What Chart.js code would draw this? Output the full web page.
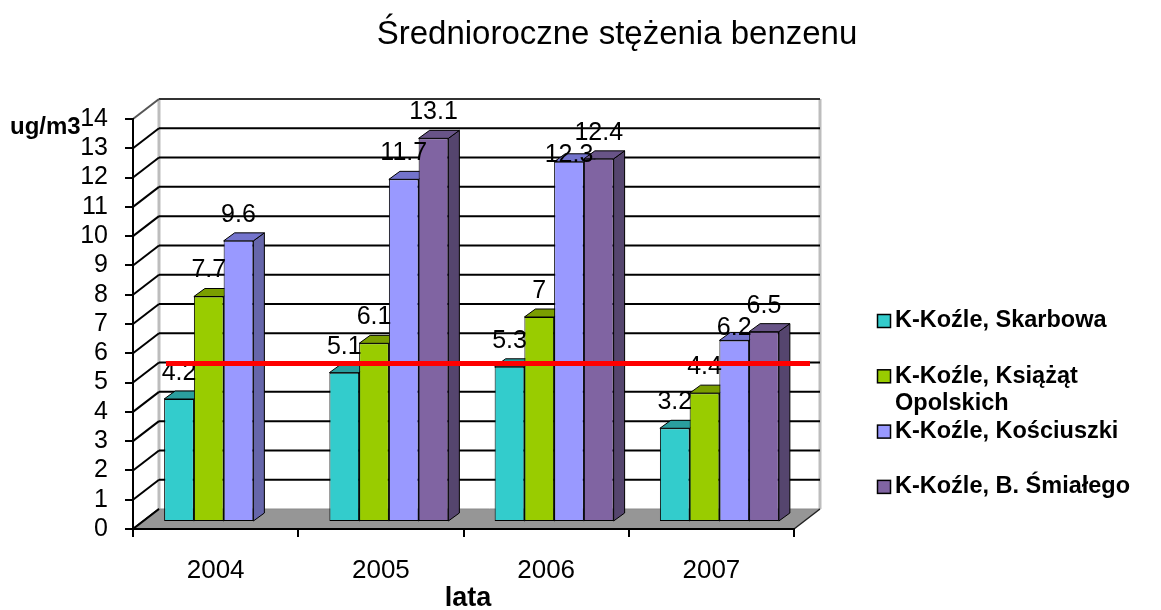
<!DOCTYPE html>
<html>
<head>
<meta charset="utf-8">
<script src="https://cdn.jsdelivr.net/npm/chart.js@4.4.1/dist/chart.umd.min.js"></script>
<style>
  html, body { margin: 0; padding: 0; background: #ffffff; }
  #wrap { width: 1161px; height: 610px; position: relative; }
</style>
</head>
<body>
<div id="wrap"><canvas id="chart" width="1161" height="610"></canvas></div>
<script>
// Średnioroczne stężenia benzenu – Kędzierzyn-Koźle, 2004–2007 [ug/m3]
const years = ['2004', '2005', '2006', '2007'];
const skarbowa   = [4.2, 5.1, 5.3, 3.2];
const ksiazat    = [7.7, 6.1, 7, 4.4];
const kosciuszki = [9.6, 11.7, 12.3, 6.2];
const smialego   = [null, 13.1, 12.4, 6.5];
const stationNames = [
  'K-Koźle, Skarbowa',
  'K-Koźle, Książąt Opolskich',
  'K-Koźle, Kościuszki',
  'K-Koźle, B. Śmiałego'
];
const yAxisMax = 14;
const limitValue = 5; // poziom dopuszczalny

const FONT = "'Liberation Sans', Arial, sans-serif";

// front, top and side face colours of each series
const faceColors = [
  { front: '#33CCCC', top: '#2A9E9E', side: '#1F7777' },
  { front: '#99CC00', top: '#7A9E00', side: '#5A7700' },
  { front: '#9999FF', top: '#7373CC', side: '#6666AA' },
  { front: '#8064A2', top: '#685487', side: '#55456E' }
];

const WALL = { x: 26, y: -20 };   // offset of the back wall
const SHIFT = { x: 8, y: -7 };    // bars stand in the middle of the floor
const BAR3D = { x: 11, y: -8 };   // bar depth

function poly(ctx, pts, fill, stroke, lw) {
  ctx.beginPath();
  ctx.moveTo(pts[0][0], pts[0][1]);
  for (let i = 1; i < pts.length; i++) ctx.lineTo(pts[i][0], pts[i][1]);
  ctx.closePath();
  if (fill) { ctx.fillStyle = fill; ctx.fill(); }
  if (stroke) { ctx.strokeStyle = stroke; ctx.lineWidth = lw || 1; ctx.stroke(); }
}

function line(ctx, x0, y0, x1, y1, color, lw) {
  ctx.beginPath();
  ctx.moveTo(x0, y0);
  ctx.lineTo(x1, y1);
  ctx.strokeStyle = color;
  ctx.lineWidth = lw;
  ctx.stroke();
}

const frame3d = {
  id: 'frame3d',
  beforeDraw(chart) {
    const ctx = chart.ctx;
    const { left, right, top, bottom } = chart.chartArea;
    const ys = chart.scales.y;
    ctx.save();
    ctx.fillStyle = '#ffffff';
    ctx.fillRect(0, 0, chart.width, chart.height);

    // back wall
    ctx.fillStyle = '#ffffff';
    ctx.fillRect(left + WALL.x, top + WALL.y, right - left, bottom - top);
    line(ctx, left + WALL.x, top + WALL.y, left + WALL.x, bottom + WALL.y, '#BDBDBD', 3);
    line(ctx, right + WALL.x, top + WALL.y, right + WALL.x, bottom + WALL.y, '#BDBDBD', 3);

    // gridlines on the back wall and on the side wall
    ys.ticks.forEach(t => {
      const yp = ys.getPixelForValue(t.value);
      if (t.value > 0) {
        line(ctx, left + WALL.x, yp + WALL.y, right + WALL.x, yp + WALL.y, t.value === yAxisMax ? '#333' : '#000', 2);
      }
      line(ctx, left, yp, left + WALL.x, yp + WALL.y, t.value === yAxisMax ? '#555' : '#000', 2);
    });

    // floor
    poly(ctx, [
      [left, bottom], [left + WALL.x, bottom + WALL.y],
      [right + WALL.x, bottom + WALL.y], [right, bottom]
    ], '#969696', null);
    line(ctx, left + WALL.x, bottom + WALL.y, right + WALL.x, bottom + WALL.y, '#8A8A8A', 1);
    line(ctx, right, bottom, right + WALL.x, bottom + WALL.y, '#222', 1.5);
    line(ctx, left, bottom, left + WALL.x, bottom + WALL.y, '#000', 2);
    ctx.restore();
  },
  beforeDatasetsDraw(chart) {
    const ctx = chart.ctx;
    ctx.save();
    ctx.translate(SHIFT.x, SHIFT.y);
    chart.data.datasets.forEach((ds, di) => {
      const meta = chart.getDatasetMeta(di);
      const col = faceColors[di];
      meta.data.forEach((bar, i) => {
        if (ds.data[i] === null || ds.data[i] === undefined) return;
        const p = bar.getProps(['x', 'y', 'width', 'base'], true);
        const x0 = p.x - p.width / 2, x1 = p.x + p.width / 2;
        const yt = Math.min(p.y, p.base), yb = Math.max(p.y, p.base);
        poly(ctx, [[x1, yt], [x1 + BAR3D.x, yt + BAR3D.y], [x1 + BAR3D.x, yb + BAR3D.y], [x1, yb]], col.side, '#000', 1);
        poly(ctx, [[x0, yt], [x1, yt], [x1 + BAR3D.x, yt + BAR3D.y], [x0 + BAR3D.x, yt + BAR3D.y]], col.top, '#000', 1);
      });
    });
    // the bar fronts are drawn by Chart.js inside this translation
  },
  afterDatasetsDraw(chart) {
    const ctx = chart.ctx;
    ctx.restore();

    // value labels above the bars
    ctx.save();
    ctx.font = '25px ' + FONT;
    ctx.fillStyle = '#000';
    ctx.textAlign = 'center';
    ctx.textBaseline = 'middle';
    const boxH = 22;
    years.forEach((yr, i) => {
      let next = null;
      for (let di = chart.data.datasets.length - 1; di >= 0; di--) {
        const v = chart.data.datasets[di].data[i];
        if (v === null || v === undefined) continue;
        const p = chart.getDatasetMeta(di).data[i].getProps(['x', 'y'], true);
        const txt = String(v);
        const w = ctx.measureText(txt).width;
        const cx = p.x + SHIFT.x;
        let cy = p.y + SHIFT.y - 26;
        if (next && Math.abs(cx - next.cx) < (w + next.w) / 2 &&
            Math.abs(cy - next.cy) < boxH) {
          cy = next.cy + boxH;
        }
        ctx.fillText(txt, cx, cy);
        next = { cx, cy, w };
      }
    });
    ctx.restore();
  },
  afterDraw(chart) {
    const ctx = chart.ctx;
    const { left, right } = chart.chartArea;
    const ys = chart.scales.y;
    ctx.save();

    // limit line on the back wall
    const yl = ys.getPixelForValue(limitValue) + WALL.y + 1;
    line(ctx, left + WALL.x + 7, yl, right + WALL.x - 10, yl, '#FF0000', 5);

    // title
    ctx.fillStyle = '#000';
    ctx.textAlign = 'center';
    ctx.textBaseline = 'alphabetic';
    ctx.font = '33px ' + FONT;
    ctx.fillText('Średnioroczne stężenia benzenu', 617, 44);

    // axis titles
    ctx.font = 'bold 24px ' + FONT;
    ctx.textAlign = 'left';
    ctx.fillText('ug/m3', 10, 134);
    ctx.font = 'bold 27px ' + FONT;
    ctx.textAlign = 'center';
    ctx.fillText('lata', 468, 606);

    // legend
    ctx.font = 'bold 23.5px ' + FONT;
    ctx.textAlign = 'left';
    ctx.textBaseline = 'middle';
    const legX = 877, textX = 895, maxW = 1161 - textX - 2;
    chart.data.datasets.forEach((ds, di) => {
      const cy = 321 + di * 55.3;
      ctx.fillStyle = faceColors[di].front;
      ctx.fillRect(legX + 0.5, cy - 6.5, 13, 13);
      ctx.strokeStyle = '#000';
      ctx.lineWidth = 1.5;
      ctx.strokeRect(legX + 0.5, cy - 6.5, 13, 13);
      // wrap the label into lines
      const words = ds.label.split(' ');
      const lines = [];
      let cur = '';
      words.forEach(w => {
        const test = cur ? cur + ' ' + w : w;
        if (ctx.measureText(test).width > maxW && cur) { lines.push(cur); cur = w; }
        else cur = test;
      });
      lines.push(cur);
      ctx.fillStyle = '#000';
      lines.forEach((ln, li) => ctx.fillText(ln, textX, cy + li * 27));
    });
    ctx.restore();
  }
};

const seriesValues = [skarbowa, ksiazat, kosciuszki, smialego];

new Chart(document.getElementById('chart'), {
  type: 'bar',
  data: {
    labels: years,
    datasets: seriesValues.map((vals, i) => ({
      label: stationNames[i],
      data: vals,
      backgroundColor: faceColors[i].front,
      borderColor: '#000000',
      borderWidth: 1,
      borderSkipped: false,
      categoryPercentage: 0.72,
      barPercentage: 1.0,
      clip: false
    }))
  },
  options: {
    responsive: false,
    animation: false,
    devicePixelRatio: 1,
    layout: { padding: { top: 119, right: 367, bottom: 0, left: 0 } },
    plugins: {
      legend: { display: false },
      title: { display: false },
      tooltip: { enabled: false }
    },
    scales: {
      x: {
        type: 'category',
        grid: { display: true, drawOnChartArea: false, drawTicks: true, tickLength: 8, color: '#000', lineWidth: 2, offset: true },
        border: { display: true, color: '#000', width: 2 },
        ticks: { font: { family: FONT, size: 26 }, color: '#000', padding: 18 },
        afterFit(s) { s.height = 81; }
      },
      y: {
        min: 0,
        max: yAxisMax,
        grid: { display: true, drawOnChartArea: false, drawTicks: true, tickLength: 8, color: '#000', lineWidth: 2 },
        border: { display: true, color: '#000', width: 2 },
        ticks: { stepSize: 1, autoSkip: false, font: { family: FONT, size: 25 }, color: '#000', padding: 17 },
        afterFit(s) { s.width = 133; }
      }
    }
  },
  plugins: [frame3d]
});
</script>
</body>
</html>
